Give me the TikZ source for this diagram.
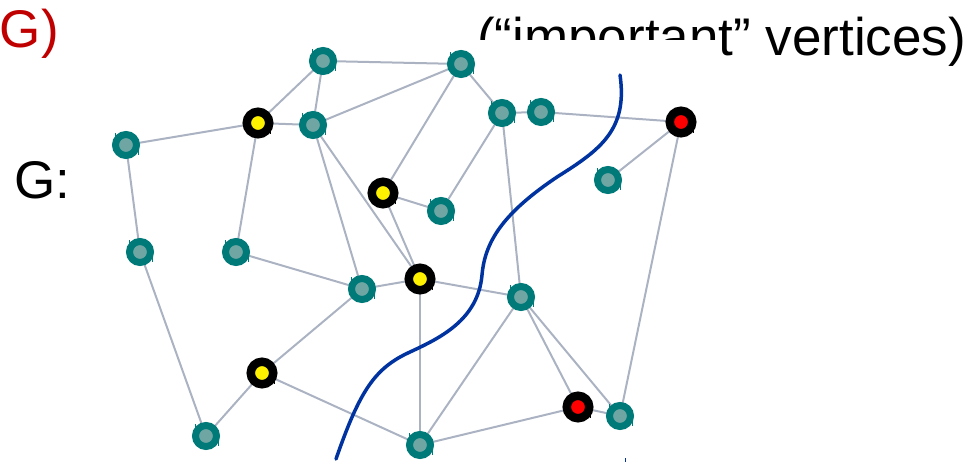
\documentclass[tikz,border=0pt]{standalone}
\usepackage{fontspec}
\setmainfont{Liberation Sans}
\definecolor{edgecol}{HTML}{ABB3C3}
\definecolor{ringcol}{HTML}{007A78}
\definecolor{corecol}{HTML}{6FA6A3}
\definecolor{cutcol}{HTML}{0033A0}
\definecolor{titlered}{HTML}{C00000}
\tikzset{
  edge/.style={draw=edgecol, line width=2pt},
  plain/.style={circle, fill=corecol, draw=ringcol, line width=7pt, minimum size=21pt, inner sep=0pt},
  special/.style={circle, draw=black, line width=8.5pt, minimum size=22.5pt, inner sep=0pt},
  yel/.style={special, fill=yellow},
  redc/.style={special, fill=red},
  tick/.style={line width=0.9pt},
  label/.style={inner sep=0pt, font=\fontsize{53}{60}\selectfont}
}
\begin{document}
\begin{tikzpicture}[x=1pt, y=-1pt]
\useasboundingbox (0,0) rectangle (973,462);
\clip (0,0) rectangle (973,462);

% headings
\node[label, anchor=base east, text=titlered] (hg) at (59,48) {G)};
\node[label, anchor=base west] (hv) at (477,56) {(“important” vertices)};
\fill[white] (300,40) rectangle (718,100);
\node[label, anchor=base west] (gl) at (14,199) {G:};

% vertices
\foreach \n/\x/\y in {t1/323/61, t2/461/64, t3/126/145, t4/313/125, t5/502/113,
  t6/541/112, t7/608/180, t8/441/211, t9/140/252, t10/236/252, t11/362/289,
  t12/521/297, t13/206/436, t14/420/445, t15/620/416}
  \coordinate (\n) at (\x,\y);
\foreach \n/\x/\y in {y1/258/123, y2/383/193, y3/420/279, y4/262/373, r1/681/122, r2/578/407}
  \coordinate (\n) at (\x,\y);

% edges
\foreach \a/\b in {t3/y1, y1/t4, y1/t1, t1/t4, t1/t2, t4/t2, t2/y2, t2/t5, t5/t8,
  t5/t6, t6/r1, y2/t8, y2/y3, t4/y3, t4/t11, y1/t10, t3/t9, t9/t13, t10/t11,
  t11/y3, y3/t12, t5/t12, y3/t14, t11/y4, y4/t13, y4/t14, t12/t14, t12/r2,
  t12/t15, t14/r2, r2/t15, r1/t15, r1/t7}
  \draw[edge] (\a) -- (\b);

% vertex discs
\foreach \n in {t1,t2,t3,t4,t5,t6,t7,t8,t9,t10,t11,t12,t13,t14,t15} {
  \node[plain] (v\n) at (\n) {};
  \draw[tick, draw=ringcol] ([shift={(-11,-12)}]\n) -- ++(0,8);
  \draw[tick, draw=ringcol] ([shift={(12,3)}]\n) -- ++(0,7);
}
\foreach \n in {y1,y2,y3,y4} {
  \node[yel] (v\n) at (\n) {};
  \draw[tick] ([shift={(12,3)}]\n) -- ++(0,8);
}
\foreach \n in {r1,r2} {
  \node[redc] (v\n) at (\n) {};
  \draw[tick] ([shift={(12,3)}]\n) -- ++(0,8);
}

% separating curve
\coordinate (ctop) at (620,75);
\coordinate (cbot) at (336,459);
\draw[cutcol, line width=3.5pt, line cap=round]
  (ctop) .. controls (628,130) and (600,150) .. (557,177)
  .. controls (505,212) and (485,240) .. (482,275)
  .. controls (478,320) and (440,338) .. (410,352)
  .. controls (375,368) and (360,390) .. (cbot);
\draw[cutcol, line width=0.8pt] (625,458) -- (625,462);
\end{tikzpicture}
\end{document}
